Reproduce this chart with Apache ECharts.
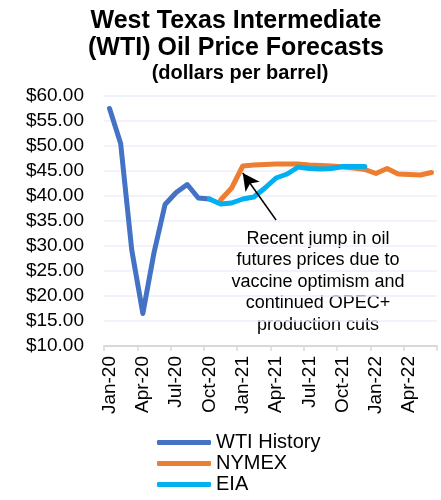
<!DOCTYPE html>
<html>
<head>
<meta charset="utf-8">
<script src="https://cdn.jsdelivr.net/npm/echarts@6/dist/echarts.min.js"></script>
<style>
  html, body { margin: 0; padding: 0; background: #fff; }
  #chart { width: 441px; height: 500px; }
</style>
</head>
<body>
<div id="chart"></div>
<script>
// month categories, Jan-20 .. Jun-22
var months = ['Jan-20', 'Feb-20', 'Mar-20', 'Apr-20', 'May-20', 'Jun-20', 'Jul-20', 'Aug-20', 'Sep-20', 'Oct-20',
  'Nov-20', 'Dec-20', 'Jan-21', 'Feb-21', 'Mar-21', 'Apr-21', 'May-21', 'Jun-21', 'Jul-21', 'Aug-21',
  'Sep-21', 'Oct-21', 'Nov-21', 'Dec-21', 'Jan-22', 'Feb-22', 'Mar-22', 'Apr-22', 'May-22', 'Jun-22']

var wtiHistory = [57.5, 50.5, 29.2, 16.5, 28.6, 38.3, 40.7, 42.3, 39.6, 39.4]
var nymex = [null, null, null, null, null, null, null, null, null, null,
  39.2, 41.6, 46.0, 46.2, 46.3, 46.4, 46.4, 46.4, 46.2, 46.1,
  46.0, 45.8, 45.6, 45.3, 44.5, 45.5, 44.4, 44.3, 44.2, 44.7]
var eia = [null, null, null, null, null, null, null, null, null, 39.4,
  38.4, 38.6, 39.4, 39.8, 41.6, 43.6, 44.4, 45.8, 45.5, 45.4,
  45.5, 45.9, 45.9, 45.9]

var note = 'Recent jump in oil\nfutures prices due to\nvaccine optimism and\ncontinued OPEC+\nproduction cuts'

var chart = echarts.init(document.getElementById('chart'))
var font = 'Liberation Sans, Arial, sans-serif'

function lineSeries(name, color, data) {
  return {
    name: name,
    type: 'line',
    data: data,
    showSymbol: false,
    symbol: 'none',
    smooth: false,
    itemStyle: { color: color },
    lineStyle: { color: color, width: 5, cap: 'round', join: 'round' },
    animation: false
  }
}

var seriesList = [
  lineSeries('WTI History', '#4472C4', wtiHistory),
  lineSeries('NYMEX', '#ED7D31', nymex),
  lineSeries('EIA', '#00B0F0', eia)
]

// arrow pointing at the jump
seriesList[1].markLine = {
  silent: true,
  animation: false,
  symbol: ['none', 'arrow'],
  symbolSize: [13, 17],
  lineStyle: { color: '#000', width: 1.5, type: 'solid' },
  label: { show: false },
  data: [[{ coord: ['Apr-21', 35.2] }, { coord: ['Jan-21', 44.6] }]]
}

chart.setOption({
  backgroundColor: '#fff',
  textStyle: { fontFamily: font },
  grid: { left: 104, right: 4, top: 96, bottom: 154 },
  graphic: [
    {
      type: 'text', x: 236, y: 8,
      style: {
        text: 'West Texas Intermediate\n(WTI) Oil Price Forecasts',
        font: 'bold 25px ' + font, fill: '#000', lineHeight: 27,
        align: 'center', verticalAlign: 'top'
      }
    },
    {
      type: 'text', x: 240, y: 63,
      style: {
        text: '(dollars per barrel)', font: 'bold 20px ' + font, fill: '#000',
        align: 'center', verticalAlign: 'top'
      }
    },
    {
      type: 'text', x: 318, y: 228,
      style: {
        text: note, font: '18px ' + font, fill: '#000', lineHeight: 21.5,
        align: 'center', verticalAlign: 'top'
      }
    }
  ],
  legend: {
    orient: 'vertical',
    left: 157,
    top: 432,
    padding: 0,
    itemGap: 0,
    itemWidth: 54,
    itemHeight: 5,
    icon: 'roundRect',
    textStyle: { fontSize: 20, color: '#000', lineHeight: 21 },
    data: ['WTI History', 'NYMEX', 'EIA']
  },
  xAxis: {
    type: 'category',
    data: months,
    boundaryGap: true,
    axisLine: { lineStyle: { color: '#D9D9D9', width: 2 } },
    axisTick: { show: true, interval: 2, length: 5, lineStyle: { color: '#D9D9D9', width: 1.5 } },
    axisLabel: { interval: 2, rotate: 90, fontSize: 19, color: '#000', margin: 10 },
    splitLine: { show: false }
  },
  yAxis: {
    type: 'value',
    min: 10,
    max: 60,
    interval: 5,
    axisLine: { show: false },
    axisTick: { show: false },
    axisLabel: {
      fontSize: 19, color: '#000', margin: 20,
      formatter: function (v) { return '$' + v.toFixed(2) }
    },
    splitLine: { lineStyle: { color: '#EDEEFA', width: 1.5 } }
  },
  series: seriesList
})
</script>
</body>
</html>
